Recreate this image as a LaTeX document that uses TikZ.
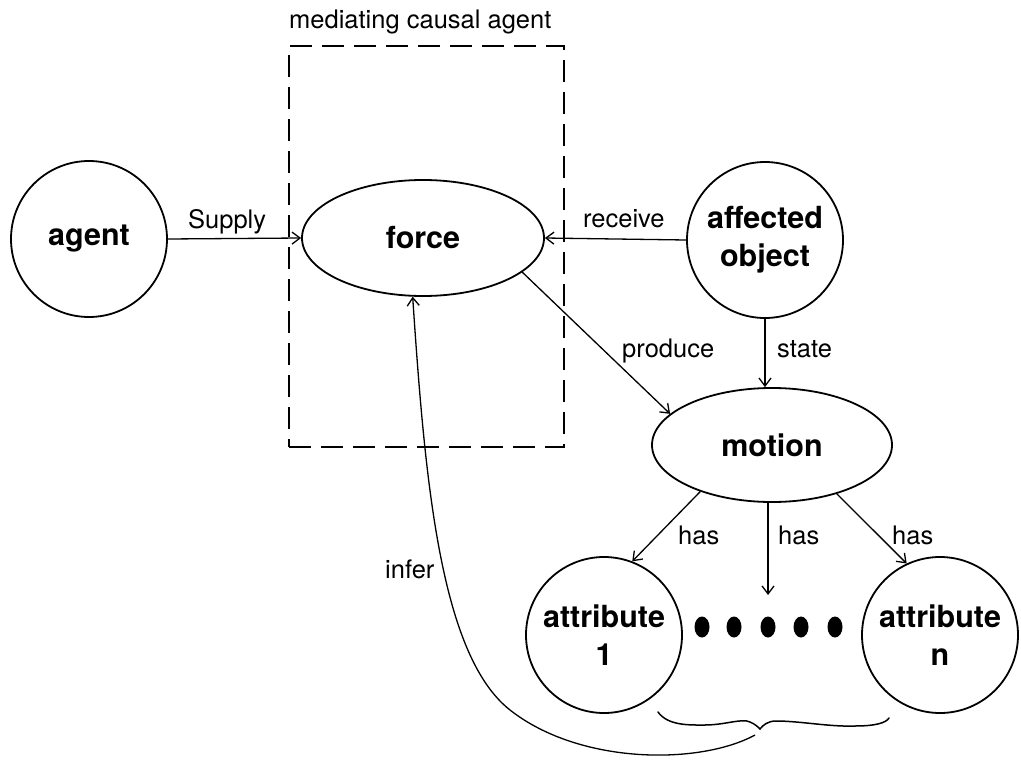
\documentclass[tikz,border=0pt]{standalone}
\usepackage{fontspec}
\setmainfont{TeX Gyre Heros}
\usetikzlibrary{arrows.meta,shapes.geometric}

\tikzset{
  concept/.style={circle, draw, line width=1.8pt, minimum size=156pt, inner sep=0pt,
    align=center, font=\fontsize{30.5}{38}\selectfont\bfseries},
  oval/.style={ellipse, draw, line width=1.8pt, inner sep=0pt,
    align=center, font=\fontsize{30.5}{38}\selectfont\bfseries},
  rel/.style={font=\fontsize{25.5}{30}\selectfont, anchor=base west, inner sep=0pt},
  link/.style={line width=1.3pt, -{Straight Barb[length=8pt,width=12pt,line width=1.3pt]}},
  frame/.style={draw, line width=1.4pt, dash pattern=on 22pt off 10pt, inner sep=0pt},
  dot/.style={ellipse, fill, inner sep=0pt, minimum width=15pt, minimum height=21pt},
  bracepath/.style={line width=1.5pt, line cap=round}
}

\begin{document}
\begin{tikzpicture}[x=1pt, y=-1pt]
\useasboundingbox (0,0) rectangle (1021,760);

% the mediating causal agent frame and its caption
\node[frame, minimum width=275pt, minimum height=401pt] (mca) at (426.5,246.5) {};
\node[rel] (mcalabel) at (289,29) {mediating causal agent};

% concepts
\node[concept] (agent) at (89,239) {agent};
\node[oval, minimum width=242pt, minimum height=116pt] (force) at (423,238) {force};
\node[concept] (affected) at (765,240) {affected\\object};
\node[oval, minimum width=240pt, minimum height=114pt] (motion) at (772,445) {motion};
\node[concept] (attr1) at (604,635) {attribute\\1};
\node[concept] (attrn) at (940,635) {attribute\\n};

% ellipsis between the attributes
\node[dot] (d1) at (702,627) {};
\node[dot] (d2) at (734,627) {};
\node[dot] (d3) at (768,627) {};
\node[dot] (d4) at (801,627) {};
\node[dot] (d5) at (835,627) {};

% relations
\draw[link] (agent.east) -- (force.west);
\node[rel] (supply) at (188,228) {Supply};

\draw[link] (affected.west) -- (force.east);
\node[rel] (receive) at (583,227) {receive};

\draw[link] (force.-19) -- (motion.163);
\node[rel] (produce) at (622,357) {produce};

\draw[link] (affected.south) -- (affected.south |- motion.north);
\node[rel] (state) at (777,357) {state};

\coordinate (hasend) at (768,595);
\draw[link] (motion.213) -- (attr1.69);
\draw[link] (motion.south -| hasend) -- (hasend);
\draw[link] (motion.-37) -- (attrn.115);
\node[rel] (has1) at (678,544) {has};
\node[rel] (has2) at (778,544) {has};
\node[rel] (has3) at (892,544) {has};

% brace under the attributes
\coordinate (bracetip) at (755,735);
\draw[bracepath] (658,712) .. controls (668,726) and (690,725) .. (705,725)
  .. controls (725,725) and (742,718) .. (750,722)
  .. controls (755,724) and (758,727) .. (760,729)
  .. controls (763,725) and (768,721) .. (776,721)
  .. controls (800,721) and (830,727) .. (855,726)
  .. controls (875,726) and (886,723) .. (889,718);

% inference back to the force
\draw[link] (bracetip) .. controls (700,765) and (580,765) .. (510,710)
  .. controls (440,655) and (425,480) .. (force.260);
\node[rel] (infer) at (385,578) {infer};
\end{tikzpicture}
\end{document}
